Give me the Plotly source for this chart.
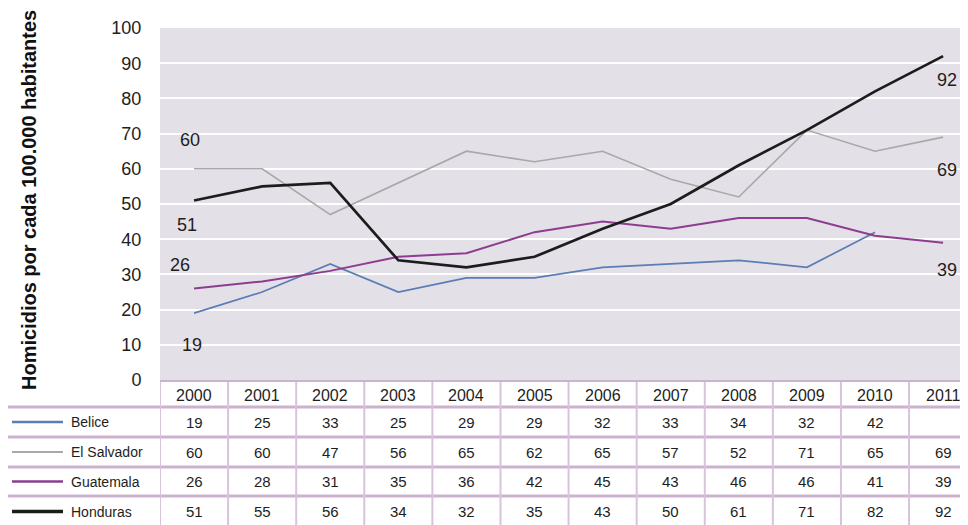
import plotly.graph_objects as go

# ---------------- data ----------------
years = ["2000", "2001", "2002", "2003", "2004", "2005",
         "2006", "2007", "2008", "2009", "2010", "2011"]
countries = ["Belice", "El Salvador", "Guatemala", "Honduras"]
belice = [19, 25, 33, 25, 29, 29, 32, 33, 34, 32, 42, None]
el_salvador = [60, 60, 47, 56, 65, 62, 65, 57, 52, 71, 65, 69]
guatemala = [26, 28, 31, 35, 36, 42, 45, 43, 46, 46, 41, 39]
honduras = [51, 55, 56, 34, 32, 35, 43, 50, 61, 71, 82, 92]
y_ticks = [0, 10, 20, 30, 40, 50, 60, 70, 80, 90, 100]
y_title = "Homicidios por cada 100.000 habitantes"

series = [belice, el_salvador, guatemala, honduras]

# ---------------- styles ----------------
colors = ["#5b7db5", "#a8a8a8", "#8e3c90", "#1c1c1c"]
widths = [1.7, 1.6, 2.0, 2.7]
FONT = "Liberation Sans"
TXT = "#1e1e1e"
BORDER = "#ccb2cf"

# the page body adds an 8px margin; lay out in reference pixels and shift
OFF = 8
W, H = 968 - OFF, 525 - OFF
REF_L, REF_T, REF_BOT = 160, 28, 380
L, T = REF_L - OFF, REF_T - OFF
plot_h = REF_BOT - REF_T
B = H - (REF_BOT - OFF)
plot_w = W - L
COL_W = 68.1


def py(pix):  # reference pixel y -> paper y
    return (REF_BOT - pix) / plot_h


def px(pix):  # reference pixel x -> paper x
    return (pix - REF_L) / plot_w


xs = list(range(len(years)))

fig = go.Figure()
for name, vals, c, w in zip(countries, series, colors, widths):
    fig.add_trace(go.Scatter(x=xs, y=vals, mode="lines", name=name,
                             line=dict(color=c, width=w),
                             showlegend=False, hoverinfo="skip"))

annotations = []
shapes = []

# end labels (first and last values)
first_offsets = {"Belice": (-2, -32), "El Salvador": (-4, 29),
                 "Guatemala": (-14, 23), "Honduras": (-7, -25)}
last_offsets = {"El Salvador": (4, -33), "Guatemala": (4, -27),
                "Honduras": (4, -24)}
for name, vals in zip(countries, series):
    if name in first_offsets:
        dx, dy = first_offsets[name]
        annotations.append(dict(x=0, y=vals[0], xref="x", yref="y",
                                text=str(vals[0]), showarrow=False,
                                xshift=dx, yshift=dy,
                                font=dict(family=FONT, size=18, color=TXT)))
    if name in last_offsets and vals[-1] is not None:
        dx, dy = last_offsets[name]
        annotations.append(dict(x=len(years) - 1, y=vals[-1], xref="x", yref="y",
                                text=str(vals[-1]), showarrow=False,
                                xshift=dx, yshift=dy,
                                font=dict(family=FONT, size=18, color=TXT)))

# y-axis title
annotations.append(dict(x=px(29), y=py(200), xref="paper", yref="paper",
                        xanchor="center", yanchor="middle",
                        text="<b>" + y_title + "</b>", textangle=-90,
                        showarrow=False,
                        font=dict(family=FONT, size=20, color="#111111")))

# ---------------- data table ----------------
header_top, header_bot = 382, 407
row_bounds = [407, 437, 467, 496, 527]
row_centers = [(row_bounds[i] + row_bounds[i + 1]) / 2 for i in range(4)]

for i, yr in enumerate(years):
    annotations.append(dict(x=i, y=py((header_top + header_bot) / 2 + 1),
                            xref="x", yref="paper", text=yr, showarrow=False,
                            xanchor="center", yanchor="middle",
                            font=dict(family=FONT, size=16, color=TXT)))
for r, (name, vals, c, w) in enumerate(zip(countries, series, colors, widths)):
    yc = py(row_centers[r])
    for i, v in enumerate(vals):
        if v is None:
            continue
        annotations.append(dict(x=i, y=yc, xref="x", yref="paper", text=str(v),
                                showarrow=False, xanchor="center", yanchor="middle",
                                font=dict(family=FONT, size=15, color=TXT)))
    annotations.append(dict(x=px(69), y=yc, xref="paper", yref="paper",
                            text=name, xanchor="left", yanchor="middle",
                            showarrow=False,
                            font=dict(family=FONT, size=14, color=TXT)))
    shapes.append(dict(type="line", xref="paper", yref="paper",
                       x0=px(12), x1=px(63), y0=yc, y1=yc,
                       line=dict(color=c, width=w + 0.6)))

# horizontal separators
for yb in row_bounds[:-1]:
    shapes.append(dict(type="line", xref="paper", yref="paper",
                       x0=px(8), x1=1, y0=py(yb), y1=py(yb),
                       line=dict(color=BORDER, width=3)))
# vertical separators
for k in range(len(years) + 1):
    shapes.append(dict(type="line", xref="x", yref="paper",
                       x0=k - 0.5, x1=k - 0.5, y0=py(header_top), y1=py(530),
                       line=dict(color="#d8c4da", width=2)))

fig.update_layout(
    width=W, height=H,
    margin=dict(l=L, r=0, t=T, b=B, pad=0),
    paper_bgcolor="white",
    plot_bgcolor="#e3e0e7",
    font=dict(family=FONT, color=TXT),
    xaxis=dict(range=[-0.5, plot_w / COL_W - 0.5 + (REF_L - 194 + COL_W / 2) / COL_W],
               showticklabels=False,
               showgrid=False, zeroline=False, showline=True,
               linecolor=BORDER, linewidth=2, fixedrange=True),
    yaxis=dict(range=[0, 100], tickvals=y_ticks, showgrid=True,
               gridcolor="white", gridwidth=2, zeroline=False,
               ticks="outside", ticklen=14, tickcolor="rgba(0,0,0,0)",
               tickfont=dict(family=FONT, size=18, color=TXT),
               fixedrange=True),
    annotations=annotations,
    shapes=shapes,
)

fig.write_html("out.html", config={"displayModeBar": False})
